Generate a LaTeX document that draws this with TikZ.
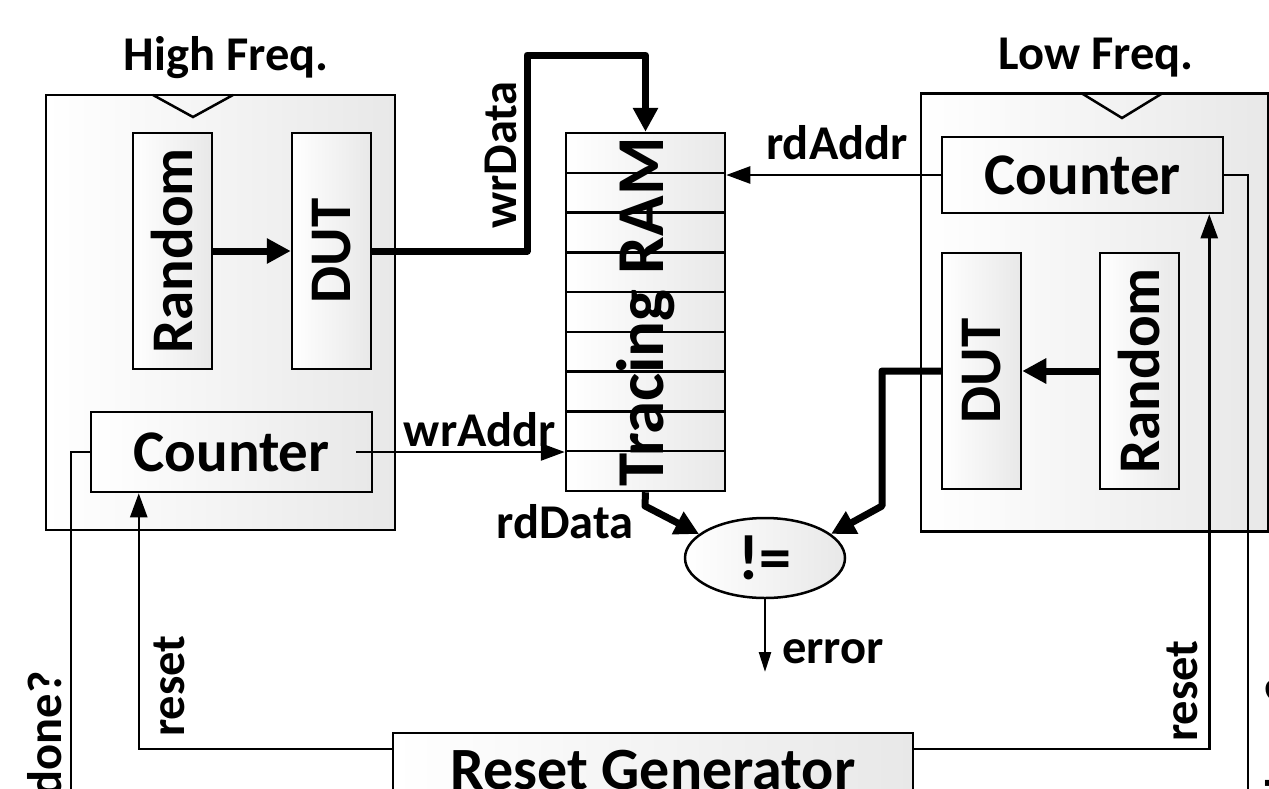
\documentclass[tikz,border=0pt]{standalone}
\usepackage{fontspec}
\setmainfont{Carlito}
\usetikzlibrary{arrows.meta,shapes.geometric}
\tikzset{
  blk/.style  = {draw, line width=2.5pt, left color=white, right color=black!9, inner sep=0pt},
  sig/.style  = {line width=2.5pt, -{Triangle[length=24pt,width=17pt]}},
  bus/.style  = {line width=7pt, line join=round, -{Triangle[length=24pt,width=24pt]}},
  lab/.style  = {font=\fontsize{48.5}{52}\selectfont\bfseries, inner sep=0pt},
  big/.style  = {font=\fontsize{59}{62}\selectfont\bfseries},
}

\begin{document}
\begin{tikzpicture}[x=1pt, y=-1pt]
\useasboundingbox (0,0) rectangle (1269,788);
\clip (0,0) rectangle (1269,788);

% ── HIGH FREQ. domain (left) ─────────────────────────────────
\node[blk, minimum width=349pt, minimum height=435pt] (hf) at (220.5,312.5) {};
\draw[line width=2.5pt] (153,95) -- (193,117) -- (233,95); % clock
\node[lab] (hfLab) at (226,58) {High Freq.};
\node[blk, big, minimum width=79pt, minimum height=236pt] (rndL) at (172.5,251) {\rotatebox{90}{Random}};
\node[blk, big, minimum width=79pt, minimum height=236pt] (dutL) at (331.5,251) {\rotatebox{90}{DUT}};
\node[blk, big, minimum width=281pt, minimum height=80pt] (cntL) at (231.5,452) {Counter};
\draw[bus] (rndL.east) -- (dutL.east -| dutL.west);

% ── LOW FREQ. domain (right) ─────────────────────────────────
\node[blk, minimum width=347pt, minimum height=438pt] (lf) at (1094.5,312.5) {};
\draw[line width=2.5pt] (1082,93.5) -- (1122,118) -- (1162,93.5); % clock
\node[lab] (lfLab) at (1096,58) {Low Freq.};
\node[blk, big, minimum width=281pt, minimum height=76pt] (cntR) at (1082.5,175) {Counter};
\node[blk, big, minimum width=79pt, minimum height=236pt] (dutR) at (981.5,371) {\rotatebox{90}{DUT}};
\node[blk, big, minimum width=79pt, minimum height=236pt] (rndR) at (1139.5,371) {\rotatebox{90}{Random}};
\draw[bus] (rndR.west) -- (dutR.east);

% ── Tracing RAM: 9 rows ──────────────────────────────────────
\node[blk, minimum width=159pt, minimum height=358pt,
      font=\fontsize{67}{70}\selectfont\bfseries] (ram) at (645.5,312) {\rotatebox{90}{Tracing RAM}};
\foreach \k in {1,...,8}{
  \pgfmathsetmacro\yy{133+\k*358/9}
  \draw[line width=2.5pt] (566,\yy) -- (725,\yy);
}

% ── Compare + reset generator ───────────────────────────────
\node[blk, ellipse, minimum width=160pt, minimum height=80pt,
      font=\fontsize{64}{66}\selectfont\bfseries] (neq) at (765,558) {!=};
\node[blk, minimum width=520pt, minimum height=75pt,
      font=\fontsize{60}{64}\selectfont\bfseries] (rg) at (653,770.5) {Reset Generator};

% ── Write side ───────────────────────────────────────────────
\coordinate (wrTop) at (527,55);
\draw[bus] (dutL.east) -| (wrTop) -| (ram.north);
\node[lab, rotate=90] (wrDataLab) at (501,155) {wrData};
\draw[sig] ([xshift=-17pt]cntL.east) -- (cntL.east -| ram.west);
\node[lab] (wrAddrLab) at (480,430) {wrAddr};

% ── Read side ────────────────────────────────────────────────
\draw[sig] (cntR.west) -- (cntR.west -| ram.east);
\node[lab] (rdAddrLab) at (837,143) {rdAddr};
\coordinate (rdBend) at (645,506);
\draw[bus] (ram.south) -- (rdBend) -- (neq.160);
\node[lab] (rdDataLab) at (565,522) {rdData};
\coordinate (cmpBend) at (882,506);
\draw[bus] (dutR.west) -| (cmpBend) -- (neq.20);

% error output
\coordinate (errEnd) at (765,672);
\draw[sig, -{Triangle[length=20pt,width=12pt]}] (neq.south) -- (errEnd);
\node[lab] (errLab) at (833,652) {error};

% ── Reset and done? lines ────────────────────────────────────
\draw[sig] ([yshift=-17pt]rg.north west) -| ([xshift=49pt]cntL.south west);
\draw[sig] ([yshift=-17pt]rg.north east) -| ([xshift=-15pt]cntR.south east);
\node[lab, rotate=90] (rstLabL) at (169,686) {reset};
\node[lab, rotate=90] (rstLabR) at (1182,691) {reset};
\coordinate (doneL) at (71,800);
\coordinate (doneR) at (1248,800);
\draw[line width=2.5pt] (cntL.west) -| (doneL);
\draw[line width=2.5pt] (cntR.east) -| (doneR);
\node[lab, rotate=90] (doneLabL) at (45,734) {done?};
\node[lab, rotate=90] (doneLabR) at (1283,741) {done?};

\end{tikzpicture}
\end{document}
